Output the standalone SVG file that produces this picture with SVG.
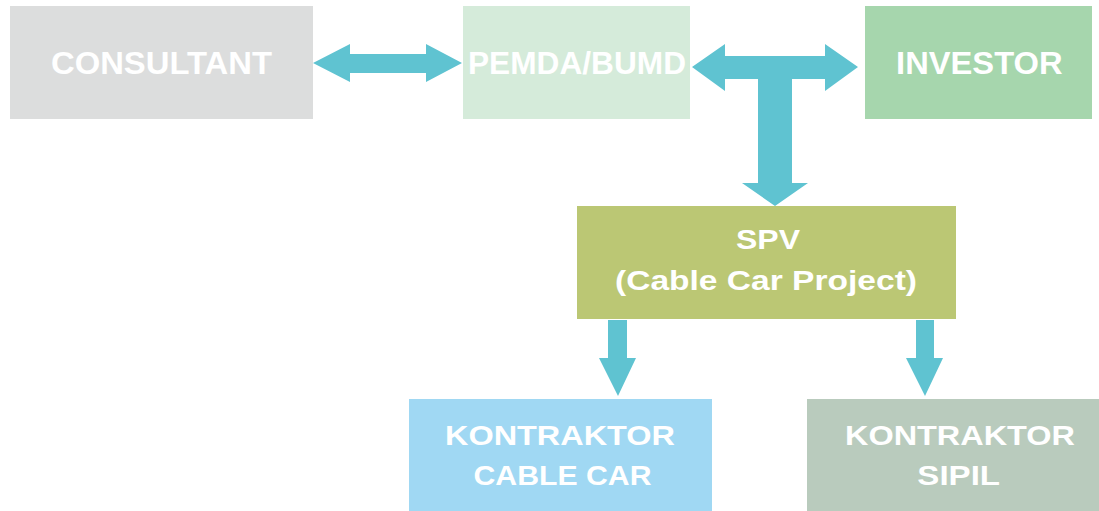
<svg xmlns="http://www.w3.org/2000/svg" width="1099" height="511" viewBox="0 0 1099 511">
<style>
.lbl{font-family:"Liberation Sans",Arial,sans-serif;font-weight:bold;fill:#ffffff;text-anchor:middle}
.big{font-size:30.5px}
.mid{font-size:28.5px}
.k{font-size:28px}
.arr{fill:#5fc3d1}
</style>
<rect width="1099" height="511" fill="#ffffff"/>
<g id="consultant">
<rect x="10" y="6" width="303" height="113" fill="#dcdddd"/>
<text class="lbl big" x="161.5" y="74" textLength="221" lengthAdjust="spacingAndGlyphs">CONSULTANT</text>
</g>
<g id="pemda">
<rect x="463" y="6" width="227" height="113" fill="#d5ebda"/>
<text class="lbl big" x="577" y="74" textLength="218" lengthAdjust="spacingAndGlyphs">PEMDA/BUMD</text>
</g>
<g id="investor">
<rect x="865" y="6" width="227" height="113" fill="#a6d6ad"/>
<text class="lbl big" x="979.3" y="74" textLength="166.5" lengthAdjust="spacingAndGlyphs">INVESTOR</text>
</g>
<g id="spv">
<rect x="577" y="206" width="379" height="113" fill="#bbc774"/>
<text class="lbl mid" x="768" y="249" textLength="64" lengthAdjust="spacingAndGlyphs">SPV</text>
<text class="lbl mid" x="766" y="290" textLength="302" lengthAdjust="spacingAndGlyphs">(Cable Car Project)</text>
</g>
<g id="kontraktor-cable-car">
<rect x="409" y="399" width="303" height="112" fill="#a0d8f3"/>
<text class="lbl k" x="560" y="445" textLength="230" lengthAdjust="spacingAndGlyphs">KONTRAKTOR</text>
<text class="lbl k" x="562.5" y="485" textLength="178" lengthAdjust="spacingAndGlyphs">CABLE CAR</text>
</g>
<g id="kontraktor-sipil">
<rect x="807" y="399" width="292" height="112" fill="#b9cbbd"/>
<text class="lbl k" x="960" y="445" textLength="230" lengthAdjust="spacingAndGlyphs">KONTRAKTOR</text>
<text class="lbl k" x="958.7" y="485" textLength="82.7" lengthAdjust="spacingAndGlyphs">SIPIL</text>
</g>
<g id="connectors">
<polygon class="arr" points="313,63 350,44 350,54 426,54 426,44 462,63 426,82 426,73 350,73 350,82"/>
<polygon class="arr" points="692,67 725,44 725,56 825,56 825,44 858,67 825,91 825,79 792,79 792,183 808,183 775,206 742,183 758,183 758,79 725,79 725,91"/>
<polygon class="arr" points="608,320 627,320 627,358 636,358 618,396 599,358 608,358"/>
<polygon class="arr" points="916,320 934,320 934,358 943,358 925,396 906,358 916,358"/>
</g>
</svg>
